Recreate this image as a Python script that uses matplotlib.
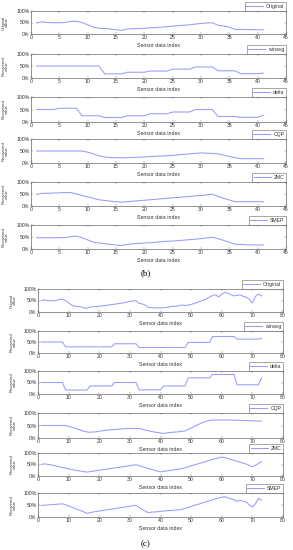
import numpy as np
import matplotlib
matplotlib.use('Agg')
import matplotlib.pyplot as plt
from matplotlib.ticker import PercentFormatter

plt.rcParams['font.family'] = ['Liberation Sans', 'DejaVu Sans']

# panel (b) data, sensor index 1..41
idx_b = np.arange(1, 42)
orig_b = [48, 53, 50, 49, 49, 50, 55, 55, 50, 40, 30, 25, 24, 22, 18, 16, 22, 23, 24, 25, 27,
          28, 30, 32, 34, 36, 38, 40, 43, 46, 48, 49, 38, 35, 30, 20, 20, 19, 19, 18, 18]
winavg_b = [50]*12 + [17]*4 + [24]*4 + [29]*4 + [37]*4 + [46]*4 + [30]*4 + [18]*4 + [20]
delta_b = [50]*4 + [55]*4 + [25]*4 + [18]*4 + [25]*4 + [33]*4 + [40]*4 + [50]*4 + [22]*4 + [19]*4 + [27]
cqp_b = [50, 50, 50, 50, 50, 50, 50, 50, 50, 45, 38, 30, 25, 23, 22, 22, 22, 23, 24, 25, 27,
         28, 29, 30, 32, 34, 36, 38, 40, 42, 41, 40, 38, 33, 27, 22, 18, 18, 18, 18, 18]
mc_b = [48, 53, 53, 54, 55, 56, 56, 50, 44, 38, 32, 26, 23, 20, 18, 16, 18, 20, 22, 24, 26,
        28, 30, 32, 34, 36, 38, 40, 42, 44, 46, 49, 40, 32, 25, 18, 18, 18, 18, 18, 18]
smep_b = [47, 47, 47, 47, 47, 48, 51, 54, 47, 38, 28, 25, 22, 19, 17, 15, 19, 22, 23, 25, 26,
          28, 30, 32, 33, 35, 37, 39, 41, 43, 46, 49, 43, 36, 28, 20, 19, 18, 17, 17, 17]

# panel (c) data, sensor index 1..73
idx_c = np.arange(1, 74)
orig_c = orig_b[:35] + [20, 19, 18, 18, 18, 18, 20, 22, 25, 24, 28, 30, 28, 30, 33, 37, 42,
                        47, 52, 57, 65, 72, 75, 65, 78, 85, 82, 75, 70, 72, 75, 68, 65, 55,
                        40, 68, 78, 70]
winavg_c = [50]*8 + [28]*16 + [42]*8 + [25]*16 + [48]*8 + [75]*8 + [63]*8 + [67]
delta_c = [50]*8 + [17]*8 + [35]*8 + [50]*8 + [18]*8 + [35]*8 + [70]*8 + [85]*8 + [40]*8 + [70]
cqp_c = [50]*9 + [47, 43, 39, 35, 31, 27, 24, 23, 24, 25, 27, 29, 31, 32, 33, 34, 35, 36, 37,
                  38, 38, 38, 38, 38, 35, 32, 29, 26, 24, 22, 20, 18, 20, 22, 23, 24, 25, 27,
                  28, 34, 40, 46, 52, 58, 63, 67, 70, 72] + \
        [72, 72, 72, 72, 72, 72, 71, 71, 71, 70, 70, 69, 69, 68, 68, 68]
mc_c = [50, 53, 51, 49, 46, 43, 40, 37, 34, 31, 28, 26, 23, 21, 19, 17, 19, 21, 23, 25, 27,
        29, 31, 33, 35, 37, 39, 41, 43, 45, 47, 49, 45, 41, 37, 33, 29, 25, 21, 18, 20, 22,
        24, 26, 28, 30, 32, 36, 40, 44, 48, 52, 56, 60, 64, 68, 72, 76, 79, 82, 80, 76, 72,
        68, 64, 60, 56, 52, 46, 40, 47, 55, 62]
smep_c = [48, 49, 50, 51, 52, 53, 54, 55, 51, 46, 41, 36, 31, 26, 21, 15, 18, 21, 23, 25, 27,
          29, 31, 33, 35, 37, 39, 41, 43, 45, 47, 49, 40, 32, 25, 18, 20, 21, 22, 23, 25, 26,
          27, 28, 29, 30, 32, 36, 40, 44, 48, 52, 56, 60, 64, 68, 72, 76, 79, 82, 85, 80, 76,
          72, 65, 70, 66, 62, 50, 42, 55, 78, 70]

names = ['Original', 'winavg', 'delta', 'CQP', '2MC', 'SMEP']
panel_b = [orig_b, winavg_b, delta_b, cqp_b, mc_b, smep_b]
panel_c = [orig_c, winavg_c, delta_c, cqp_c, mc_c, smep_c]

W, H = 293, 550
fig = plt.figure(figsize=(W / 100, H / 100), dpi=100)
line_color = '#9a9aff'
text_color = '#333333'
fs = 3.7


def make_axes(left, right, top, bottom):
    return fig.add_axes([left / W, 1 - bottom / H, (right - left) / W, (bottom - top) / H])


def draw(ax, x, y, name, xmax, xstep, first, ylab_x):
    ax.plot(x, np.array(y) / 100, color=line_color, lw=0.75, label=name)
    ax.set_xlim(0, xmax)
    ax.set_ylim(0, 1)
    ax.set_xticks(np.arange(0, xmax + 1, xstep))
    ax.set_yticks([0, 0.5, 1])
    ax.yaxis.set_major_formatter(PercentFormatter(1.0, decimals=0))
    ax.tick_params(direction='in', length=1.5, width=0.3, labelsize=fs, pad=1,
                   top=True, right=True, labelcolor=text_color, color='#666666')
    for s in ax.spines.values():
        s.set_linewidth(0.45)
        s.set_color('#555555')
    ax.set_xlabel('Sensor data index', fontsize=3.8, labelpad=2, color=text_color)
    ax.set_ylabel('Original\nvalue' if first else 'Recovered\nvalue', fontsize=3.0,
                  linespacing=0.9, color=text_color)
    ax.yaxis.set_label_coords(ylab_x, 0.5)
    leg = ax.legend(loc='lower right', bbox_to_anchor=(1.0, 1.02), fontsize=3.7,
                    frameon=True, fancybox=False, borderaxespad=0, handlelength=3.3,
                    borderpad=0.3, handletextpad=0.6, labelcolor=text_color)
    leg.get_frame().set_linewidth(0.45)
    leg.get_frame().set_edgecolor('#555555')


rows_b = [(11, 34), (54, 78), (97, 122), (139, 163), (182, 206), (225, 249)]
for i, (t, b) in enumerate(rows_b):
    ax = make_axes(31, 286, t, b)
    draw(ax, idx_b, panel_b[i], names[i], 45, 5, i == 0, -0.085)

rows_c = [(289, 312), (331, 353), (371, 394), (413, 438), (453, 476), (493, 517)]
for i, (t, b) in enumerate(rows_c):
    ax = make_axes(38, 283, t, b)
    draw(ax, idx_c, panel_c[i], names[i], 80, 10, i == 0, -0.085)

fig.text(146 / W, 1 - 273 / H, '(b)', ha='center', va='center', fontsize=6.5,
         family='Liberation Serif')
fig.text(146 / W, 1 - 544 / H, '(c)', ha='center', va='center', fontsize=6.5,
         family='Liberation Serif')

fig.savefig('out.png', dpi=100)
